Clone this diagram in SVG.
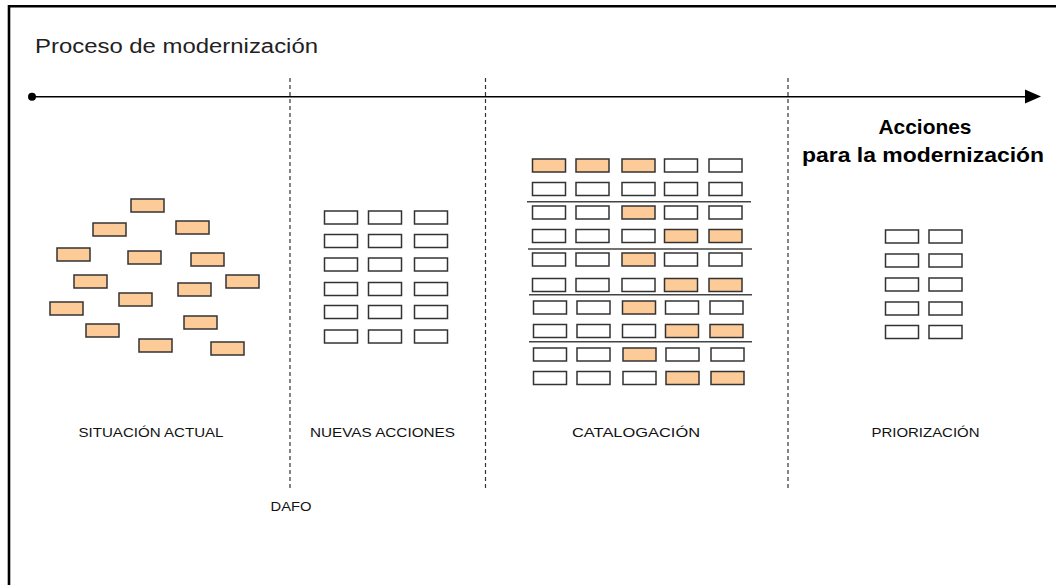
<svg xmlns="http://www.w3.org/2000/svg" width="1056" height="585" viewBox="0 0 1056 585">
<style>
.o{fill:#FDCB98;stroke:#333;stroke-width:1.5}
.w{fill:#fff;stroke:#333;stroke-width:1.5}
.lab{font-family:"Liberation Sans",Arial,sans-serif;font-size:13.5px;fill:#111;text-anchor:middle}
.dash{stroke:#333;stroke-width:1.2;stroke-dasharray:4 3;fill:none}
.sep{stroke:#444;stroke-width:1.4}
</style>
<defs>
<rect id="b" width="33" height="13"/>
</defs>
<rect width="1056" height="585" fill="#fff"/>
<path d="M9,585 V6.2 H1056" fill="none" stroke="#000" stroke-width="2.6"/>
<text x="35" y="53" font-family="'Liberation Sans',Arial,sans-serif" font-size="20" textLength="283" lengthAdjust="spacingAndGlyphs" fill="#222">Proceso de modernización</text>
<g id="connectors">
<circle cx="32" cy="96.7" r="4" fill="#000"/>
<line x1="32" y1="96.7" x2="1026" y2="96.7" stroke="#000" stroke-width="1.4"/>
<polygon points="1025,89.5 1041,96.5 1025,103.5" fill="#000"/>
<line class="dash" x1="290" y1="78" x2="290" y2="490"/>
<line class="dash" x1="485.5" y1="78" x2="485.5" y2="490"/>
<line class="dash" x1="788" y1="78" x2="788" y2="490"/>
</g>
<g id="situacion">
<use href="#b" class="o" x="131" y="199"/>
<use href="#b" class="o" x="93" y="223"/>
<use href="#b" class="o" x="176" y="221"/>
<use href="#b" class="o" x="57" y="248"/>
<use href="#b" class="o" x="128" y="251"/>
<use href="#b" class="o" x="191" y="253"/>
<use href="#b" class="o" x="74" y="275"/>
<use href="#b" class="o" x="226" y="275"/>
<use href="#b" class="o" x="178" y="283"/>
<use href="#b" class="o" x="119" y="293"/>
<use href="#b" class="o" x="50" y="302"/>
<use href="#b" class="o" x="184" y="316"/>
<use href="#b" class="o" x="86" y="324"/>
<use href="#b" class="o" x="139" y="339"/>
<use href="#b" class="o" x="211" y="342"/>
<text class="lab" x="151" y="437" textLength="145" lengthAdjust="spacingAndGlyphs">SITUACIÓN ACTUAL</text>
</g>
<g id="nuevas">
<g class="w">
<use href="#b" x="324.5" y="211"/><use href="#b" x="368.5" y="211"/><use href="#b" x="414.5" y="211"/>
<use href="#b" x="324.5" y="234.5"/><use href="#b" x="368.5" y="234.5"/><use href="#b" x="414.5" y="234.5"/>
<use href="#b" x="324.5" y="258"/><use href="#b" x="368.5" y="258"/><use href="#b" x="414.5" y="258"/>
<use href="#b" x="324.5" y="282.5"/><use href="#b" x="368.5" y="282.5"/><use href="#b" x="414.5" y="282.5"/>
<use href="#b" x="324.5" y="305.5"/><use href="#b" x="368.5" y="305.5"/><use href="#b" x="414.5" y="305.5"/>
<use href="#b" x="324.5" y="330"/><use href="#b" x="368.5" y="330"/><use href="#b" x="414.5" y="330"/>
</g>
<text class="lab" x="382.5" y="437" textLength="145" lengthAdjust="spacingAndGlyphs">NUEVAS ACCIONES</text>
</g>
<g id="dafo">
<text class="lab" x="291" y="511" textLength="41" lengthAdjust="spacingAndGlyphs">DAFO</text>
</g>
<g id="catalogacion">
<use href="#b" class="o" x="532.5" y="159"/><use href="#b" class="o" x="576" y="159"/><use href="#b" class="o" x="622" y="159"/><use href="#b" class="w" x="664.5" y="159"/><use href="#b" class="w" x="709" y="159"/>
<use href="#b" class="w" x="532.5" y="182.5"/><use href="#b" class="w" x="576" y="182.5"/><use href="#b" class="w" x="622" y="182.5"/><use href="#b" class="w" x="664.5" y="182.5"/><use href="#b" class="w" x="709" y="182.5"/>
<use href="#b" class="w" x="532.5" y="206"/><use href="#b" class="w" x="576" y="206"/><use href="#b" class="o" x="622" y="206"/><use href="#b" class="w" x="664.5" y="206"/><use href="#b" class="w" x="709" y="206"/>
<use href="#b" class="w" x="532.5" y="229.5"/><use href="#b" class="w" x="576" y="229.5"/><use href="#b" class="w" x="622" y="229.5"/><use href="#b" class="o" x="664.5" y="229.5"/><use href="#b" class="o" x="709" y="229.5"/>
<use href="#b" class="w" x="532.5" y="253"/><use href="#b" class="w" x="576" y="253"/><use href="#b" class="o" x="622" y="253"/><use href="#b" class="w" x="664.5" y="253"/><use href="#b" class="w" x="709" y="253"/>
<use href="#b" class="w" x="532.5" y="278.5"/><use href="#b" class="w" x="576" y="278.5"/><use href="#b" class="w" x="622" y="278.5"/><use href="#b" class="o" x="664.5" y="278.5"/><use href="#b" class="o" x="709" y="278.5"/>
<use href="#b" class="w" x="533.5" y="301"/><use href="#b" class="w" x="577" y="301"/><use href="#b" class="o" x="622.5" y="301"/><use href="#b" class="w" x="665.5" y="301"/><use href="#b" class="w" x="710" y="301"/>
<use href="#b" class="w" x="533.5" y="324.5"/><use href="#b" class="w" x="577" y="324.5"/><use href="#b" class="w" x="622.5" y="324.5"/><use href="#b" class="o" x="665.5" y="324.5"/><use href="#b" class="o" x="710" y="324.5"/>
<use href="#b" class="w" x="533.5" y="348"/><use href="#b" class="w" x="577" y="348"/><use href="#b" class="o" x="623" y="348"/><use href="#b" class="w" x="666" y="348"/><use href="#b" class="w" x="711" y="348"/>
<use href="#b" class="w" x="533.5" y="371.5"/><use href="#b" class="w" x="577" y="371.5"/><use href="#b" class="w" x="623" y="371.5"/><use href="#b" class="o" x="666" y="371.5"/><use href="#b" class="o" x="711" y="371.5"/>
<line class="sep" x1="527" y1="201.7" x2="751" y2="201.7"/>
<line class="sep" x1="528" y1="249" x2="752" y2="249"/>
<line class="sep" x1="529" y1="294.7" x2="752" y2="294.7"/>
<line class="sep" x1="529" y1="341.7" x2="752" y2="341.7"/>
<text class="lab" x="636" y="437" textLength="128" lengthAdjust="spacingAndGlyphs">CATALOGACIÓN</text>
</g>
<g id="priorizacion">
<text x="925" y="134" font-family="'Liberation Sans',Arial,sans-serif" font-size="21" font-weight="bold" text-anchor="middle" textLength="93" lengthAdjust="spacingAndGlyphs" fill="#000">Acciones</text>
<text x="923" y="162" font-family="'Liberation Sans',Arial,sans-serif" font-size="21" font-weight="bold" text-anchor="middle" textLength="242" lengthAdjust="spacingAndGlyphs" fill="#000">para la modernización</text>
<g class="w">
<use href="#b" x="885.5" y="230"/><use href="#b" x="929" y="230"/>
<use href="#b" x="885.5" y="254"/><use href="#b" x="929" y="254"/>
<use href="#b" x="885.5" y="278"/><use href="#b" x="929" y="278"/>
<use href="#b" x="885.5" y="302"/><use href="#b" x="929" y="302"/>
<use href="#b" x="885.5" y="325.5"/><use href="#b" x="929" y="325.5"/>
</g>
<text class="lab" x="925.5" y="437" textLength="108" lengthAdjust="spacingAndGlyphs">PRIORIZACIÓN</text>
</g>
</svg>
